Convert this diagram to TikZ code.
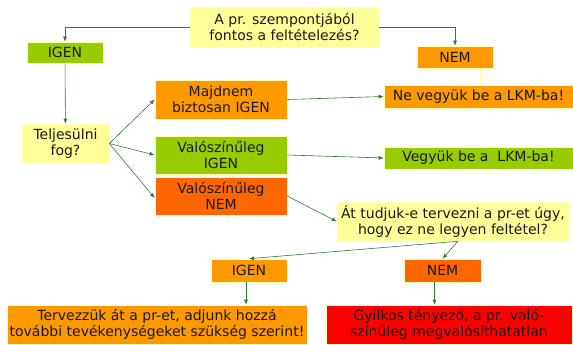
\documentclass[tikz,border=0pt]{standalone}
\usepackage{fontspec}
\setmainfont{DejaVu Sans}
\usetikzlibrary{arrows.meta}
\definecolor{halvany}{HTML}{FFFF99}
\definecolor{narancs}{HTML}{FF9900}
\definecolor{zold}{HTML}{99CC00}
\definecolor{vorosnarancs}{HTML}{FF6600}
\definecolor{piros}{HTML}{FF0000}
\definecolor{nyil}{HTML}{2E7D2E}
\tikzset{box/.style={draw=halvany!70,line width=0.6pt,inner sep=0pt,align=center,
    font=\fontsize{14}{15.7}\selectfont,text=black!90}}

\begin{document}
\begin{tikzpicture}[x=1pt,y=-1pt,
    kerdes/.style={box,fill=halvany},
    igen/.style={box,fill=zold},
    kozepes/.style={box,fill=narancs},
    rossz/.style={box,fill=vorosnarancs},
    vege/.style={box,fill=piros},
    nyilvonal/.style={draw=nyil,line width=0.6pt,-{Latex[length=5pt,width=4pt]}}]
        \useasboundingbox (0,0) rectangle (573,345);
        % elso kerdes es a ket ag
        \node[kerdes,minimum width=189,minimum height=40] (q1) at (284.5,27) {A pr. szempontjából\\fontos a feltételezés?};
        \node[igen,minimum width=76,minimum height=21] (igen1) at (65,52.5) {IGEN};
        \node[kozepes,minimum width=76,minimum height=22] (nem1) at (455,57) {NEM};
        \node[kozepes,minimum width=189,minimum height=23] (nevegyuk) at (478.5,96.5) {Ne vegyük be a LKM-ba!};
        % teljesules
        \node[kerdes,minimum width=87,minimum height=39] (telj) at (65.5,143.5) {Teljesülni\\fog?};
        \node[kozepes,minimum width=132,minimum height=39] (majdnem) at (221,99.5) {Majdnem\\biztosan IGEN};
        \node[igen,minimum width=132,minimum height=38] (valigen) at (221,155) {Valószínűleg\\IGEN};
        \node[rossz,minimum width=132,minimum height=38] (valnem) at (221,196) {Valószínűleg\\NEM};
        \node[igen,minimum width=189,minimum height=22] (vegyuk) at (478.5,158) {Vegyük be a \ LKM-ba!};
        % ujratervezes
        \node[kerdes,minimum width=232,minimum height=39] (at) at (453,221.5) {Át tudjuk-e tervezni a pr-et úgy,\\hogy ez ne legyen feltétel?};
        \node[kozepes,minimum width=76,minimum height=23] (igen2) at (249,270.5) {IGEN};
        \node[rossz,minimum width=77,minimum height=23] (nem2) at (442.5,270.5) {NEM};
        \node[kozepes,minimum width=300,minimum height=39] (terv) at (157,324.5) {Tervezzük át a pr-et, adjunk hozzá\\további tevékenységeket szükség szerint!};
        \node[vege,minimum width=246,minimum height=39] (gyilkos) at (449,324.5) {Gyilkos tényező, a pr. való-\\színűleg megvalósíthatatlan};

        \draw[nyilvonal] (q1.west) -| (igen1.north);
        \draw[nyilvonal] (q1.east) -| (nem1.north);
        \draw[draw=halvany,line width=0.6pt,-{Latex[length=3pt,width=3pt]}] ([xshift=25]nem1.south) -- ([xshift=25]nem1.south |- nevegyuk.north);
        \draw[nyilvonal] (igen1) -- (telj);
        \draw[nyilvonal] (telj.east) -- (majdnem.west);
        \draw[nyilvonal] (telj.east) -- (valigen.west);
        \draw[nyilvonal] (telj.east) -- ([yshift=-2]valnem.west);
        \draw[nyilvonal] (majdnem.east) -- (nevegyuk.west);
        \draw[nyilvonal] (valigen.east) -- (vegyuk.west);
        \draw[nyilvonal] (valnem.east) -- (at.west);
        \draw[nyilvonal] ([xshift=5]at.south) -- (igen2.north);
        \draw[nyilvonal] ([xshift=5]at.south) -- (nem2.north);
        \draw[nyilvonal] ([xshift=-3]igen2.south) -- ([xshift=-3]igen2.south |- terv.north);
        \draw[nyilvonal] ([xshift=-8]nem2.south) -- ([xshift=-8]nem2.south |- gyilkos.north);
    \end{tikzpicture}
\end{document}
